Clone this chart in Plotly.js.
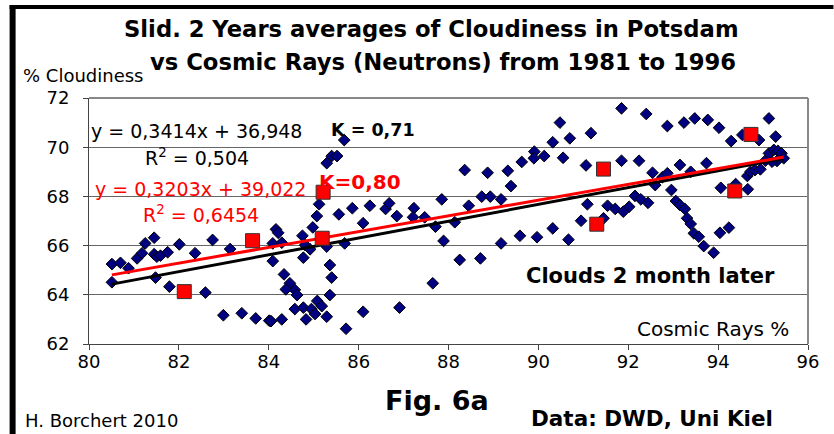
<!DOCTYPE html>
<html>
<head>
<meta charset="utf-8">
<script src="https://cdn.plot.ly/plotly-3.0.1.min.js"></script>
<style>
html,body{margin:0;padding:0;background:#fff;}
#chart{width:834px;height:434px;}
</style>
</head>
<body>
<div id="chart"></div>
<script>
// Monthly sliding 2-year averages: cosmic rays (%) vs cloudiness (%)
const blueX = [
80.51,80.70,80.88,80.51,81.07,81.18,81.25,81.45,81.45,81.51,81.59,81.48,81.75,81.79,82.01,82.36,82.75,83.14,82.59,82.99,83.40,83.71,84.01,
85.68,85.40,85.52,85.29,85.12,85.56,85.86,86.25,86.10,86.60,86.68,86.85,87.23,87.21,87.47,87.85,87.71,87.89,87.65,
85.07,84.98,84.75,84.16,84.21,84.09,84.29,84.81,84.92,85.29,85.69,84.77,84.09,84.34,84.47,84.38,84.58,84.63,
85.36,85.40,85.36,85.08,85.18,84.58,84.77,84.95,85.03,84.83,85.29,84.29,84.05,85.72,86.10,86.91,
91.85,90.48,91.17,90.70,90.32,89.91,89.90,90.13,90.55,89.63,89.32,88.87,88.36,89.39,88.74,88.93,89.17,88.45,88.14,
88.25,88.71,89.17,89.59,89.97,90.32,90.67,90.95,91.06,91.85,91.09,91.54,91.71,91.89,91.45,
92.40,92.87,93.24,93.48,93.77,94.02,94.29,94.54,94.91,95.13,95.28,92.24,92.54,92.60,92.76,92.87,93.15,93.39,93.74,
92.96,92.15,92.28,92.44,92.02,93.06,93.15,93.26,93.31,93.39,93.46,93.57,93.68,93.90,94.04,94.24,
94.06,94.39,94.66,94.65,94.72,94.82,94.94,95.05,95.13,95.24,95.33,95.41,95.46,95.31,95.20
];
const blueY = [
65.25,65.30,65.08,64.51,65.48,65.69,66.09,66.32,65.65,65.55,65.59,64.70,65.73,64.33,66.05,65.69,66.23,65.86,64.09,63.17,63.25,63.04,62.95,
70.29,69.64,69.64,69.35,67.68,67.27,67.52,67.62,66.91,67.49,67.72,67.20,67.52,67.15,67.15,67.88,66.77,66.19,64.47,
67.20,66.74,66.40,66.66,66.52,66.09,66.12,66.02,65.85,65.96,66.09,65.51,65.37,64.83,64.47,64.22,64.20,63.99,
65.21,64.70,63.99,63.75,63.54,63.42,63.48,63.42,63.22,63.00,63.11,63.00,62.93,62.62,63.31,63.48,
71.58,71.00,70.57,70.36,70.20,69.82,69.55,69.64,69.57,69.40,69.04,68.96,69.07,68.42,67.99,67.99,67.88,67.62,66.95,
65.42,65.48,66.09,66.40,66.34,66.70,66.24,67.01,69.26,69.45,67.68,67.62,67.49,67.38,67.11,
71.35,70.86,71.00,71.17,71.11,70.79,70.25,70.50,70.29,71.17,70.43,69.45,68.96,68.46,68.78,68.94,69.28,69.00,69.35,
68.26,68.02,67.88,67.74,67.58,67.81,67.65,67.49,67.11,66.88,66.50,66.36,65.98,65.71,66.52,66.73,
68.35,68.50,68.29,68.83,69.00,69.07,69.10,69.45,69.75,69.89,69.85,69.75,69.55,69.44,69.41
];
// Second series (red squares)
const redX = [82.12, 83.64, 85.19, 85.21, 91.30, 91.45, 94.37, 94.73];
const redY = [64.13, 66.20, 66.30, 68.17, 66.87, 69.11, 68.22, 70.52];

// Trendlines as given in the chart
const trendXRange = [80.51, 95.46];
const blackSlope = 0.3414, blackIntercept = 36.948;
const redSlope = 0.3203, redIntercept = 39.022;

const xTicks = [80, 82, 84, 86, 88, 90, 92, 94, 96];
const yTicks = [62, 64, 66, 68, 70, 72];

const titleLine1 = "Slid. 2 Years averages of Cloudiness in Potsdam";
const titleLine2 = "vs Cosmic Rays (Neutrons) from 1981 to 1996";

const F = "DejaVu Sans";
function ax(px){ return (px - 88.5) / 720; }
function ay(py){ return (344 - py) / 246; }

const traces = [
  {x: blueX, y: blueY, type: 'scatter', mode: 'markers',
   marker: {symbol: 'diamond', size: 9, color: '#000080', line: {color: '#000000', width: 1}},
   showlegend: false},
  {x: trendXRange, y: trendXRange.map(v => blackSlope * v + blackIntercept), type: 'scatter', mode: 'lines',
   line: {color: '#000000', width: 3}, showlegend: false},
  {x: trendXRange, y: trendXRange.map(v => redSlope * v + redIntercept), type: 'scatter', mode: 'lines',
   line: {color: '#FF0000', width: 3}, showlegend: false},
  {x: redX, y: redY, type: 'scatter', mode: 'markers',
   marker: {symbol: 'square', size: 14, color: '#FF0000', line: {color: '#333333', width: 1}},
   showlegend: false}
];

function ann(text, px, py, size, color, bold, xanchor){
  return {text: text, xref: 'paper', yref: 'paper', x: ax(px), y: ay(py),
    xanchor: xanchor || 'center', yanchor: 'middle', showarrow: false,
    font: {family: F, size: size, color: color, weight: bold ? 'bold' : 'normal'}};
}

const layout = {
  width: 834, height: 434,
  margin: {l: 88.5, r: 25.5, t: 98, b: 90},
  paper_bgcolor: '#ffffff', plot_bgcolor: '#ffffff',
  showlegend: false,
  xaxis: {range: [80, 96], tickvals: xTicks, ticktext: xTicks.map(String),
    ticks: 'outside', ticklen: 5, tickcolor: '#444', showgrid: false, zeroline: false,
    showline: true, linecolor: '#444', linewidth: 1,
    ticklabelstandoff: -4,
    tickfont: {family: F, size: 18, color: '#000'}},
  yaxis: {range: [62, 72], tickvals: yTicks, ticktext: yTicks.map(String),
    ticks: 'outside', ticklen: 5, tickcolor: '#444', showgrid: true, gridcolor: '#666', gridwidth: 1,
    zeroline: false, showline: true, linecolor: '#444', linewidth: 1,
    ticklabelstandoff: 10,
    tickfont: {family: F, size: 18, color: '#000'}},
  shapes: [
    {type: 'line', xref: 'paper', yref: 'paper', x0: 0, x1: 1, y0: 1, y1: 1, line: {color: '#888', width: 2}},
    {type: 'line', xref: 'paper', yref: 'paper', x0: 1, x1: 1, y0: 0, y1: 1, line: {color: '#888', width: 2}},
    {type: 'rect', xref: 'paper', yref: 'paper', x0: ax(9), x1: ax(15), y0: ay(434), y1: ay(5), fillcolor: '#000', line: {width: 0}, layer: 'above'},
    {type: 'rect', xref: 'paper', yref: 'paper', x0: ax(9), x1: ax(834), y0: ay(9), y1: ay(5), fillcolor: '#000', line: {width: 0}, layer: 'above'}
  ],
  annotations: [
    ann(titleLine1, 431, 29, 22.7, '#000', true),
    ann(titleLine2, 443, 62, 22.7, '#000', true),
    ann('% Cloudiness', 20, 75, 18, '#000', false, 'left'),
    ann('y = 0,3414x + 36,948', 196.5, 131, 19, '#000', false),
    ann('K = 0,71', 373, 130, 17.5, '#000', true),
    ann('R<sup>2</sup> = 0,504', 196.5, 157, 19, '#000', false),
    ann('y = 0,3203x + 39,022', 200, 189, 19, '#FF0000', false),
    ann('K=0,80', 360, 182, 20, '#FF0000', true),
    ann('R<sup>2</sup> = 0,6454', 201, 214, 19, '#FF0000', false),
    ann('Clouds 2 month later', 651, 276, 21, '#000', true),
    ann('Cosmic Rays %', 713, 329, 20, '#000', false),
    ann('Fig. 6a', 437, 400, 27, '#000', true),
    ann('Data: DWD, Uni Kiel', 652, 418, 21.5, '#000', true),
    ann('H. Borchert 2010', 22, 420, 18, '#000', false, 'left')
  ]
};

Plotly.newPlot('chart', traces, layout, {staticPlot: true, displayModeBar: false});
</script>
</body>
</html>
